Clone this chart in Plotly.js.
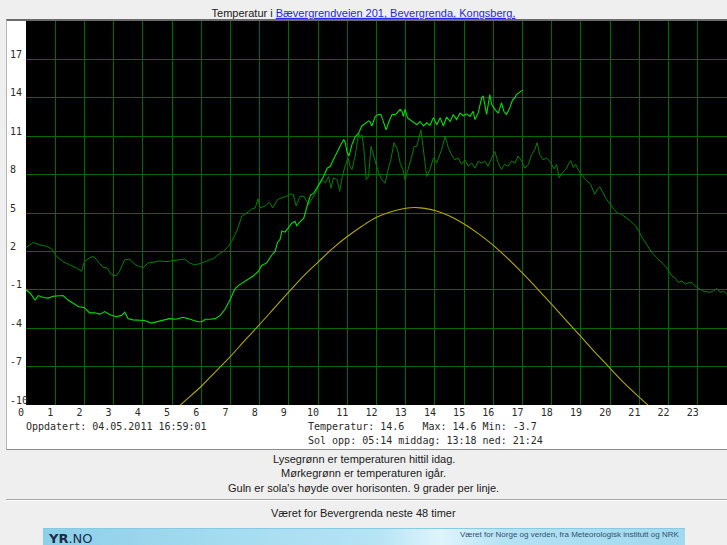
<!DOCTYPE html>
<html>
<head>
<meta charset="utf-8">
<script src="https://cdn.plot.ly/plotly-3.0.1.min.js"></script>
<style>
  html, body { margin:0; padding:0; }
  body { background:#efefef; width:727px; height:545px; overflow:hidden; position:relative; }
  #box { position:absolute; left:6px; top:19px; width:730px; height:428px; background:#fff;
         border-top:2px solid #6a6a6a; border-left:1px solid #b4b4b4; border-bottom:1px solid #8c8c8c; }
  #hr { position:absolute; left:6px; top:499px; width:730px; height:0; border-top:1px solid #a8a8a8; border-bottom:1px solid #fafafa; }
  #banner { position:absolute; left:43px; top:528px; width:642px; height:20px;
            background:linear-gradient(90deg,#8ccfe8 0%,#a6dcf0 30%,#b5e4f4 52%,#dff4fc 62%,#b3e2f3 72%,#a2d9ee 100%);
            border-top:1px solid #86cbe6; }
  #chart { position:absolute; left:0; top:0; width:727px; height:545px; }
</style>
</head>
<body>
<div id="box"></div>
<div id="hr"></div>
<div id="banner"></div>
<div id="chart"></div>
<script>
// ---------- data ----------
const hourTicks = [0,1,2,3,4,5,6,7,8,9,10,11,12,13,14,15,16,17,18,19,20,21,22,23];
const tempTicks = [-10,-7,-4,-1,2,5,8,11,14,17];

// today (light green): hour of day, temperature °C
const todayHours = [0.00,0.14,0.31,0.42,0.59,0.76,0.93,1.16,1.27,1.44,1.62,1.79,2.00,2.18,2.35,2.53,2.70,2.87,3.09,3.27,3.38,3.49,3.66,3.89,4.06,4.29,4.46,4.69,4.91,5.14,5.37,5.54,5.71,5.88,6.02,6.14,6.31,6.48,6.65,6.82,6.99,7.16,7.28,7.45,7.62,7.79,7.96,8.07,8.24,8.41,8.53,8.61,8.70,8.76,8.87,8.98,9.10,9.21,9.27,9.38,9.51,9.62,9.74,9.85,9.97,10.08,10.19,10.31,10.42,10.53,10.65,10.76,10.88,10.93,10.99,11.05,11.10,11.16,11.27,11.39,11.50,11.62,11.73,11.79,11.84,11.96,12.07,12.15,12.24,12.33,12.41,12.53,12.64,12.70,12.81,12.87,12.92,12.98,13.06,13.15,13.27,13.38,13.49,13.61,13.72,13.83,13.95,14.06,14.18,14.29,14.40,14.52,14.63,14.74,14.86,14.97,15.09,15.20,15.31,15.37,15.48,15.60,15.65,15.71,15.77,15.88,15.94,16.05,16.17,16.28,16.36,16.45,16.56,16.66,16.74,16.79,16.91,17.00];
const todayTemp  = [-1.0,-1.25,-1.8,-1.45,-1.6,-1.65,-1.5,-1.5,-1.45,-1.8,-2.05,-2.3,-2.4,-2.8,-2.8,-2.9,-2.7,-2.95,-3.1,-3.0,-2.75,-3.25,-3.35,-3.4,-3.4,-3.6,-3.5,-3.4,-3.25,-3.3,-3.15,-3.25,-3.4,-3.5,-3.5,-3.3,-3.3,-3.25,-3.0,-2.5,-1.75,-0.9,-0.65,-0.4,-0.2,0.1,0.45,0.9,1.1,1.7,2.0,2.7,2.95,3.6,3.5,3.85,4.2,4.35,4.0,4.3,4.6,5.5,6.4,6.55,7.0,7.35,7.85,8.5,8.65,9.2,9.8,10.25,10.75,10.5,9.8,9.45,9.8,10.35,10.95,11.25,11.8,12.05,12.2,12.1,11.8,12.55,12.7,12.7,12.05,11.5,12.05,12.7,12.7,12.8,13.1,12.95,12.55,13.1,12.45,12.3,12.1,11.9,12.15,11.8,12.05,11.85,12.45,11.9,12.45,11.8,12.5,12.15,12.7,12.3,12.8,12.6,12.75,12.55,12.95,12.3,12.8,14.0,14.15,13.35,12.7,14.25,13.5,13.1,12.8,13.6,12.95,12.7,13.2,13.85,14.0,14.25,14.45,14.6];

// yesterday (dark green)
const yesterdayHours = [0.00,0.25,0.48,0.70,0.88,1.05,1.27,1.50,1.73,1.90,2.00,2.18,2.32,2.47,2.64,2.78,2.92,3.09,3.20,3.38,3.55,3.72,3.89,4.03,4.18,4.35,4.57,4.80,5.03,5.26,5.43,5.60,5.77,5.97,6.19,6.42,6.59,6.76,6.93,7.05,7.22,7.39,7.56,7.73,7.85,7.94,8.02,8.19,8.33,8.45,8.61,8.76,8.93,9.04,9.15,9.25,9.38,9.52,9.67,9.80,9.91,10.02,10.14,10.25,10.36,10.44,10.53,10.65,10.74,10.82,10.92,11.03,11.10,11.16,11.27,11.39,11.44,11.50,11.56,11.65,11.73,11.81,11.90,11.99,12.07,12.18,12.30,12.38,12.49,12.60,12.72,12.81,12.90,12.98,13.09,13.21,13.29,13.38,13.52,13.61,13.72,13.83,13.95,14.06,14.15,14.23,14.35,14.46,14.57,14.69,14.80,14.91,15.03,15.14,15.26,15.37,15.48,15.60,15.71,15.82,15.94,16.05,16.17,16.28,16.39,16.51,16.62,16.74,16.85,16.97,17.08,17.20,17.31,17.42,17.50,17.59,17.70,17.82,17.93,18.08,18.17,18.25,18.36,18.48,18.59,18.65,18.74,18.82,18.90,19.01,19.16,19.33,19.47,19.56,19.65,19.73,19.84,19.99,20.13,20.24,20.38,20.52,20.69,20.86,20.98,21.09,21.26,21.43,21.60,21.77,21.89,22.00,22.11,22.23,22.34,22.45,22.57,22.68,22.80,22.91,23.02,23.17,23.31,23.42,23.53,23.65,23.76,23.88,24.00];
const yesterdayTemp  = [2.3,2.7,2.5,2.4,2.2,1.6,1.2,0.95,0.7,0.45,1.2,1.5,1.6,1.2,0.75,0.7,0.2,0.1,0.45,1.35,1.4,1.0,0.8,0.75,1.1,1.15,1.25,1.2,1.25,1.35,1.4,1.1,0.95,1.05,1.25,1.45,1.75,2.0,2.4,2.8,3.6,4.75,5.0,5.3,5.4,6.1,5.4,5.55,5.85,5.4,6.05,6.2,6.3,6.5,6.45,5.55,6.3,6.3,5.65,6.15,6.55,7.1,7.6,7.35,7.85,6.95,7.75,7.6,6.7,7.75,8.65,9.3,8.6,8.4,9.45,11.25,10.85,11.1,10.2,7.6,7.85,10.2,9.45,8.9,8.15,7.6,7.35,8.25,9.15,10.5,9.95,8.9,8.4,7.6,8.4,9.45,10.2,10.2,11.5,9.8,7.85,8.4,9.3,8.9,9.45,9.95,11.0,10.1,9.55,9.15,9.3,8.8,9.15,8.65,8.9,8.5,9.05,8.9,9.05,8.65,9.3,9.8,8.9,8.4,8.8,8.65,9.05,8.9,9.45,9.05,8.5,8.8,9.55,9.95,10.5,9.55,9.15,9.3,9.05,8.45,8.8,7.75,8.15,8.4,8.9,9.1,8.55,8.8,8.4,8.0,7.6,7.25,6.45,6.85,7.05,6.7,6.2,5.7,5.3,5.0,4.9,4.65,4.4,4.0,3.6,3.1,2.45,1.9,1.5,1.15,0.85,0.5,0.1,-0.1,-0.45,-0.3,-0.55,-0.45,-0.45,-0.7,-0.9,-1.1,-1.15,-1.2,-1.1,-0.9,-1.2,-1.1,-1.35];

// sun height above horizon, degrees (9 degrees per grid line)
const sunHours  = [5.0,5.5,6.0,6.5,7.0,7.5,8.0,8.5,9.0,9.5,10.0,10.5,11.0,11.5,12.0,12.5,13.0,13.3,13.5,14.0,14.5,15.0,15.5,16.0,16.5,17.0,17.5,18.0,18.5,19.0,19.5,20.0,20.5,21.0,21.5];
const sunHeight = [-1.8,1.3,4.4,7.9,11.4,15.2,18.9,22.7,26.5,30.2,33.5,36.7,39.5,41.9,44.0,45.3,46.1,46.3,46.2,45.6,44.3,42.4,40.1,37.4,34.3,30.9,27.3,23.6,19.8,16.0,12.2,8.6,5.0,1.8,-1.3];

const titleText   = 'Temperatur i ';
const titleLink   = 'Bævergrendveien 201, Bevergrenda, Kongsberg.';
const updatedText = 'Oppdatert: 04.05.2011 16:59:01';
const statsText   = 'Temperatur: 14.6   Max: 14.6 Min: -3.7';
const sunText     = 'Sol opp: 05:14 middag: 13:18 ned: 21:24';
const noteLines   = ['Lysegrønn er temperaturen hittil idag.',
                     'Mørkegrønn er temperaturen igår.',
                     "Guln er sola's høyde over horisonten. 9 grader per linje."];
const forecastText = 'Været for Bevergrenda neste 48 timer';
const yrLogoA = 'YR';
const yrLogoB = '.NO';
const yrText = 'Været for Norge og verden, fra Meteorologisk institutt og NRK';

// ---------- layout helpers ----------
const W = 727, H = 545, ML = 26, MR = 0, MT = 21, MB = 140;
const PW = W - ML - MR, PH = H - MT - MB;
const px = x => (x - ML) / PW;
const py = y => (H - MB - y) / PH;

const MONO = 'DejaVu Sans Mono, monospace';
const SANS = 'Liberation Sans, Arial, sans-serif';
const GRID = '#006b00';

function ann(text, x, y, xanchor, font) {
  return { text: text, xref: 'paper', yref: 'paper', x: px(x), y: py(y),
           xanchor: xanchor, yanchor: 'middle', showarrow: false, font: font, borderpad: 0 };
}

const traces = [
  { x: sunHours, y: sunHeight, yaxis: 'y2', type: 'scatter', mode: 'lines',
    line: { color: '#b4a800', width: 1.1, shape: 'spline', smoothing: 1 }, hoverinfo: 'skip' },
  { x: yesterdayHours, y: yesterdayTemp, type: 'scatter', mode: 'lines',
    line: { color: '#008200', width: 1 }, hoverinfo: 'skip' },
  { x: todayHours, y: todayTemp, type: 'scatter', mode: 'lines',
    line: { color: '#00e000', width: 1.1 }, hoverinfo: 'skip' }
];

const monoFont = { family: MONO, size: 10, color: '#2a2a2a' };
const sansFont = { family: SANS, size: 11, color: '#1a1a1a' };

const annotations = [
  ann(updatedText, 25, 426, 'left', monoFont),
  ann(statsText, 307, 426, 'left', monoFont),
  ann(sunText, 307, 440, 'left', monoFont),
  ann(noteLines[0], 363.5, 459, 'center', sansFont),
  ann(noteLines[1], 363.5, 473, 'center', sansFont),
  ann(noteLines[2], 363.5, 488, 'center', sansFont),
  ann(forecastText, 363.5, 513, 'center', sansFont),
  ann('<b>' + yrLogoA + '</b>' + yrLogoB, 47, 538, 'left', { family: 'DejaVu Sans, sans-serif', size: 13, color: '#1c2c48' }),
  ann(yrText, 680, 534, 'right', { family: SANS, size: 8, color: '#33506e' })
];

const layout = {
  width: W, height: H,
  margin: { l: ML, r: MR, t: MT, b: MB, pad: 0 },
  paper_bgcolor: 'rgba(0,0,0,0)',
  plot_bgcolor: '#000000',
  showlegend: false,
  title: { text: titleText + '<a href="#"><span style="color:#1f1fe6"><u>' + titleLink + '</u></span></a>',
           font: { family: SANS, size: 11, color: '#1a1a1a' },
           xref: 'container', x: 0.5, xanchor: 'center', yref: 'container', y: 1 - 13 / H, yanchor: 'middle' },
  xaxis: { range: [0, 24], tickvals: hourTicks, ticktext: hourTicks.map(String),
           showgrid: true, gridcolor: GRID, gridwidth: 1, zeroline: false, showline: false, ticks: '',
           tickfont: monoFont, ticklabelshift: -5, fixedrange: true },
  yaxis: { range: [-10, 20], tickvals: tempTicks,
           ticktext: tempTicks.map(v => { let s = String(v); while (s.length < 3) s += '\u00a0'; return s; }),
           showgrid: true, gridcolor: GRID, gridwidth: 1, zeroline: false, showline: false, ticks: '',
           tickfont: monoFont, ticklabelshift: -5, ticklabelstandoff: -3, fixedrange: true },
  yaxis2: { range: [0, 90], overlaying: 'y', visible: false, showgrid: false, zeroline: false, fixedrange: true },
  annotations: annotations
};

Plotly.newPlot('chart', traces, layout, { staticPlot: true, displayModeBar: false });
</script>
</body>
</html>
